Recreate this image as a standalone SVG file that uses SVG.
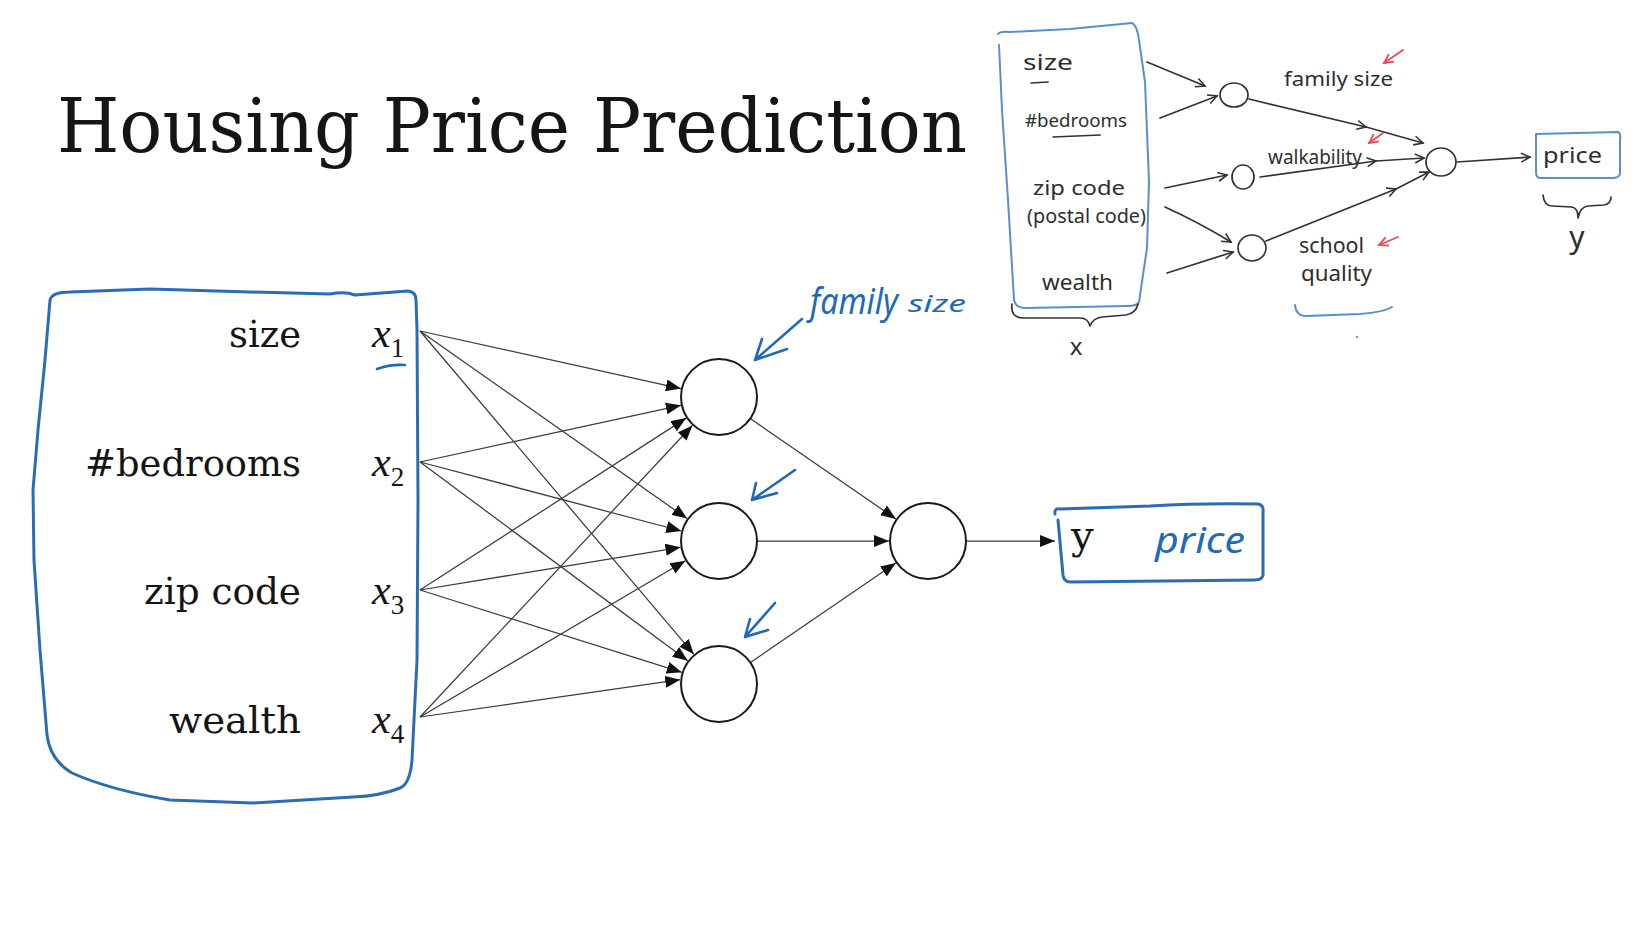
<svg xmlns="http://www.w3.org/2000/svg" width="1639" height="938" viewBox="0 0 1639 938">
<defs>
<style>
.serif{font-family:"DejaVu Serif","Liberation Serif",serif;fill:#151515}
.math{font-family:"Liberation Serif","DejaVu Serif",serif;font-style:italic;fill:#151515}
.sub{font-family:"Liberation Serif","DejaVu Serif",serif;fill:#151515}
.edge{stroke:#3c3c3c;stroke-width:1.25;fill:none}
.node{fill:#fff;stroke:#1a1a1a;stroke-width:2}
.blue{fill:none;stroke:#2a6db5;stroke-width:3;stroke-linecap:round;stroke-linejoin:round}
.bluehand{fill:none;stroke:#2169b6;stroke-width:2.6;stroke-linecap:round;stroke-linejoin:round}
.bluetext{font-family:"Noto Sans","Liberation Sans",sans-serif;font-style:italic;fill:#2169b6}
.sk{fill:none;stroke:#333;stroke-width:1.7;stroke-linecap:round;stroke-linejoin:round}
.skblue{fill:none;stroke:#5a8fcb;stroke-width:2;stroke-linecap:round;stroke-linejoin:round}
.sktext{font-family:"Noto Sans","Liberation Sans",sans-serif;fill:#2e2e2e}
.red{fill:none;stroke:#ec4a55;stroke-width:1.8;stroke-linecap:round}
</style>
<marker id="ah" markerUnits="userSpaceOnUse" markerWidth="16" markerHeight="12" refX="15" refY="6" orient="auto">
<path d="M0,0 L15,6 L0,12 z" fill="#111"/>
</marker>
<marker id="oh" markerUnits="userSpaceOnUse" markerWidth="12" markerHeight="12" refX="10" refY="6" orient="auto">
<path d="M1,1.5 L10,6 L1,10.5" fill="none" stroke="#333" stroke-width="1.6"/>
</marker>
<marker id="rh" markerUnits="userSpaceOnUse" markerWidth="12" markerHeight="12" refX="10" refY="6" orient="auto">
<path d="M1,1.5 L10,6 L1,10.5" fill="none" stroke="#ec4a55" stroke-width="1.8"/>
</marker>
</defs>
<rect width="1639" height="938" fill="#fff"/>

<g id="title">
<text class="serif" x="57" y="152" font-size="74" textLength="910" lengthAdjust="spacingAndGlyphs">Housing Price Prediction</text>
</g>

<g id="input-box">
<path class="blue" d="M50,300 Q52,292 70,292 L150,289 L250,292 L330,294 Q345,291 355,295 L408,291 Q416,292 416,300 L417,330 L418,500 L417,660 L412,760 Q410,784 400,788 Q380,796 353,797 L253,803 L170,800 Q110,790 72,773 Q50,760 47,735 L40,650 L34,560 L33,490 L38,430 L45,360 Z"/>
<text class="serif" x="301" y="347" font-size="38" text-anchor="end" textLength="72" lengthAdjust="spacingAndGlyphs">size</text>
<text class="serif" x="301" y="476" font-size="38" text-anchor="end" textLength="216" lengthAdjust="spacingAndGlyphs">#bedrooms</text>
<text class="serif" x="301" y="604" font-size="38" text-anchor="end" textLength="157" lengthAdjust="spacingAndGlyphs">zip code</text>
<text class="serif" x="301" y="733" font-size="38" text-anchor="end" textLength="132" lengthAdjust="spacingAndGlyphs">wealth</text>
<text class="math" x="372" y="347" font-size="42">x<tspan class="sub" font-style="normal" font-size="27" dy="10">1</tspan></text>
<text class="math" x="372" y="476" font-size="42">x<tspan class="sub" font-style="normal" font-size="27" dy="10">2</tspan></text>
<text class="math" x="372" y="604" font-size="42">x<tspan class="sub" font-style="normal" font-size="27" dy="10">3</tspan></text>
<text class="math" x="372" y="733" font-size="42">x<tspan class="sub" font-style="normal" font-size="27" dy="10">4</tspan></text>
<path class="bluehand" d="M377,369 Q390,364 405,365"/>
</g>

<g id="connectors">
<line class="edge" x1="420" y1="331" x2="680.9" y2="388.6" marker-end="url(#ah)"/>
<line class="edge" x1="420" y1="462" x2="680.9" y2="405.3" marker-end="url(#ah)"/>
<line class="edge" x1="420" y1="590" x2="686.2" y2="418.1" marker-end="url(#ah)"/>
<line class="edge" x1="420" y1="717" x2="692.4" y2="425.5" marker-end="url(#ah)"/>
<line class="edge" x1="420" y1="331" x2="687.1" y2="518.6" marker-end="url(#ah)"/>
<line class="edge" x1="420" y1="462" x2="681.3" y2="531.0" marker-end="url(#ah)"/>
<line class="edge" x1="420" y1="590" x2="680.5" y2="547.3" marker-end="url(#ah)"/>
<line class="edge" x1="420" y1="717" x2="685.4" y2="560.8" marker-end="url(#ah)"/>
<line class="edge" x1="420" y1="331" x2="693.8" y2="654.2" marker-end="url(#ah)"/>
<line class="edge" x1="420" y1="462" x2="687.7" y2="660.8" marker-end="url(#ah)"/>
<line class="edge" x1="420" y1="590" x2="681.8" y2="672.3" marker-end="url(#ah)"/>
<line class="edge" x1="420" y1="717" x2="680.2" y2="679.7" marker-end="url(#ah)"/>
<line class="edge" x1="750.3" y1="418.6" x2="895.9" y2="518.9" marker-end="url(#ah)"/>
<line class="edge" x1="757" y1="541" x2="889" y2="541" marker-end="url(#ah)"/>
<line class="edge" x1="750.4" y1="662.5" x2="895.8" y2="563.0" marker-end="url(#ah)"/>
<line class="edge" x1="966" y1="541" x2="1055" y2="541" marker-end="url(#ah)"/>
</g>

<g id="hidden-1"><circle class="node" cx="719" cy="397" r="38"/></g>
<g id="hidden-2"><circle class="node" cx="719" cy="541" r="38"/></g>
<g id="hidden-3"><circle class="node" cx="719" cy="684" r="38"/></g>
<g id="output"><circle class="node" cx="928" cy="541" r="38"/></g>

<g id="y-box">
<path class="blue" d="M1055,514 Q1054,508 1060,509 L1150,506 Q1200,503 1258,504 Q1264,505 1263,512 L1263,575 Q1262,580 1255,580 L1070,582 Q1064,582 1063,575 L1058,520"/>
<text class="serif" x="1071" y="549" font-size="40">y</text>
<text class="bluetext" x="1155" y="553" font-size="36" textLength="90" lengthAdjust="spacingAndGlyphs">price</text>
</g>

<g id="annotations">
<text class="bluetext" x="810" y="314" font-size="36" textLength="88" lengthAdjust="spacingAndGlyphs">family</text>
<text class="bluetext" x="908" y="312" font-size="24" textLength="58" lengthAdjust="spacingAndGlyphs">size</text>
<path class="bluehand" d="M802,319 L755,360 M762,339 L755,360 L787,349"/>
<path class="bluehand" d="M795,470 L752,500 M756,483 L752,500 L777,493"/>
<path class="bluehand" d="M775,603 L745,637 M750,619 L745,637 L768,630"/>
</g>

<g id="sketch">
<path class="skblue" d="M998,34 Q1000,31 1010,32 L1070,29 L1132,23 Q1137,25 1139,40 L1145,82 L1149,182 L1147,248 L1139,302 Q1137,306 1128,306 L1025,308 Q1016,308 1014,300 L1008,200 L1002,110 L999,45"/>
<text class="sktext" x="1023" y="70" font-size="22" textLength="50" lengthAdjust="spacingAndGlyphs">size</text>
<path class="sk" d="M1031,83 L1048,82"/>
<text class="sktext" x="1025" y="127" font-size="18" textLength="102" lengthAdjust="spacingAndGlyphs">#bedrooms</text>
<path class="sk" d="M1053,137 L1100,135"/>
<text class="sktext" x="1033" y="195" font-size="20" textLength="92" lengthAdjust="spacingAndGlyphs">zip code</text>
<text class="sktext" x="1027" y="223" font-size="19" textLength="119" lengthAdjust="spacingAndGlyphs">(postal code)</text>
<text class="sktext" x="1042" y="290" font-size="21" textLength="71" lengthAdjust="spacingAndGlyphs">wealth</text>
<path class="sk" d="M1012,304 Q1010,318 1024,318 L1080,318 Q1088,318 1090,326 Q1093,318 1102,317 L1126,315 Q1136,313 1138,304"/>
<text class="sktext" x="1076" y="355" font-size="24" text-anchor="middle">x</text>

<path class="sk" d="M1147,62 L1205,86" marker-end="url(#oh)"/>
<path class="sk" d="M1160,118 L1217,96" marker-end="url(#oh)"/>
<path class="sk" d="M1165,188 L1227,175" marker-end="url(#oh)"/>
<path class="sk" d="M1165,207 Q1198,222 1231,242" marker-end="url(#oh)"/>
<path class="sk" d="M1167,273 L1233,252" marker-end="url(#oh)"/>
<ellipse class="sk" cx="1234" cy="95" rx="14" ry="12"/>
<ellipse class="sk" cx="1243" cy="177" rx="11" ry="12"/>
<ellipse class="sk" cx="1252" cy="248" rx="14" ry="13"/>
<ellipse class="sk" cx="1441" cy="162" rx="15" ry="14"/>

<path class="sk" d="M1249,99 L1366,127" marker-end="url(#oh)"/>
<path class="sk" d="M1366,127 L1423,143" marker-end="url(#oh)"/>
<path class="sk" d="M1260,177 L1376,161" marker-end="url(#oh)"/>
<path class="sk" d="M1376,161 L1424,158" marker-end="url(#oh)"/>
<path class="sk" d="M1266,241 L1396,189" marker-end="url(#oh)"/>
<path class="sk" d="M1396,189 L1429,172" marker-end="url(#oh)"/>
<path class="sk" d="M1457,162 L1530,157" marker-end="url(#oh)"/>

<text class="sktext" x="1284" y="86" font-size="20" textLength="109" lengthAdjust="spacingAndGlyphs">family size</text>
<text class="sktext" x="1268" y="164" font-size="19" textLength="94" lengthAdjust="spacingAndGlyphs">walkability</text>
<text class="sktext" x="1299" y="253" font-size="21" textLength="65" lengthAdjust="spacingAndGlyphs">school</text>
<text class="sktext" x="1301" y="281" font-size="21" textLength="71" lengthAdjust="spacingAndGlyphs">quality</text>
<path class="skblue" d="M1295,305 Q1296,316 1306,316 L1360,314 Q1384,312 1392,307"/>
<circle cx="1357" cy="337" r="1.3" fill="#999"/>

<path class="skblue" d="M1536,134 L1618,132 Q1621,133 1620,140 L1620,174 Q1619,178 1612,178 L1540,178 Q1536,178 1536,172 Z"/>
<text class="sktext" x="1543" y="163" font-size="22" textLength="59" lengthAdjust="spacingAndGlyphs">price</text>
<path class="sk" d="M1543,195 Q1544,206 1552,206 L1572,207 Q1578,208 1578,218 Q1580,207 1588,206 L1604,205 Q1611,204 1611,197"/>
<text class="sktext" x="1577" y="248" font-size="30" text-anchor="middle">y</text>

<path class="red" d="M1403,50 L1384,63" marker-end="url(#rh)"/>
<path class="red" d="M1383,133 L1369,143" marker-end="url(#rh)"/>
<path class="red" d="M1398,237 L1379,245" marker-end="url(#rh)"/>
</g>
</svg>
